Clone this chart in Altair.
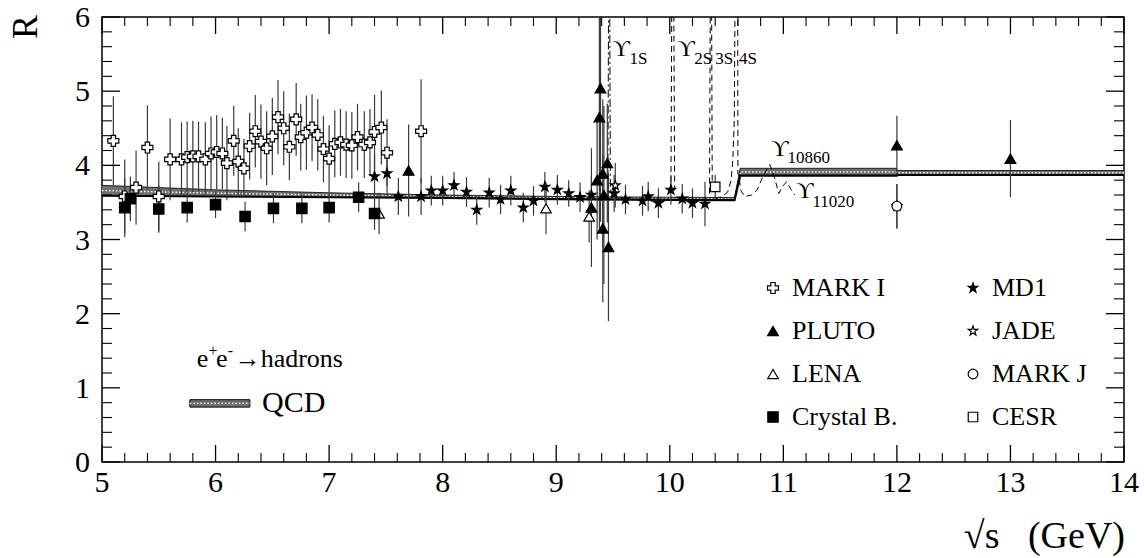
import altair as alt
import pandas as pd

FONT = "Liberation Serif"

# ---------------- data ----------------
# MARK I (open cross)
mk1_x = [5.10, 5.20, 5.30, 5.40, 5.50, 5.60, 5.70, 5.75, 5.80, 5.85, 5.91, 5.96, 6.01, 6.06, 6.10,
         6.16, 6.20, 6.25, 6.30, 6.35, 6.40, 6.45, 6.50, 6.55, 6.60, 6.65, 6.71, 6.75, 6.80, 6.85,
         6.90, 6.95, 7.00, 7.05, 7.10, 7.15, 7.20, 7.25, 7.31, 7.36, 7.40, 7.46, 7.51, 7.81]
mk1_r = [4.33, 3.58, 3.70, 4.24, 3.58, 4.08, 4.08, 4.11, 4.12, 4.12, 4.08, 4.16, 4.18, 4.16, 4.03,
         4.33, 4.05, 3.96, 4.26, 4.46, 4.32, 4.23, 4.39, 4.65, 4.50, 4.25, 4.62, 4.38, 4.44, 4.51,
         4.41, 4.22, 4.09, 4.29, 4.31, 4.28, 4.27, 4.38, 4.28, 4.31, 4.45, 4.51, 4.17, 4.46]
mk1_e = [0.60, 0.50, 0.50, 0.57, 0.47, 0.55, 0.50, 0.48, 0.48, 0.47, 0.50, 0.50, 0.50, 0.48, 0.50,
         0.47, 0.45, 0.40, 0.45, 0.49, 0.50, 0.50, 0.52, 0.50, 0.50, 0.45, 0.49, 0.45, 0.50, 0.45,
         0.48, 0.45, 0.45, 0.45, 0.45, 0.45, 0.45, 0.45, 0.45, 0.45, 0.50, 0.50, 0.45, 0.70]

# MD1 (filled star)
md1_x = [7.40, 7.51, 7.61, 7.81, 7.90, 8.00, 8.10, 8.21, 8.30, 8.41, 8.51, 8.60, 8.71, 8.80,
         8.90, 9.01, 9.11, 9.21, 9.31, 9.51, 9.61, 9.76, 9.81, 9.90, 10.01, 10.11, 10.20, 10.31]
md1_r = [3.85, 3.89, 3.58, 3.58, 3.66, 3.66, 3.73, 3.64, 3.40, 3.63, 3.54, 3.66, 3.43, 3.52,
         3.71, 3.67, 3.62, 3.57, 3.60, 3.62, 3.54, 3.52, 3.58, 3.49, 3.67, 3.55, 3.49, 3.48]
md1_e = [0.30, 0.30, 0.25, 0.25, 0.20, 0.20, 0.18, 0.20, 0.20, 0.20, 0.20, 0.20, 0.20, 0.20,
         0.20, 0.20, 0.18, 0.20, 0.25, 0.25, 0.20, 0.20, 0.20, 0.20, 0.20, 0.20, 0.20, 0.30]

# PLUTO (filled triangle)
plu_x = [7.70, 9.31, 9.36, 9.38, 9.39, 9.41, 9.41, 9.42, 9.45, 9.46, 12.00, 13.00]
plu_r = [3.93, 3.43, 3.80, 4.65, 5.04, 3.89, 3.15, 3.60, 4.03, 2.90, 4.27, 4.09]
plu_e = [0.62, 0.80, 0.80, 1.50, 1.80, 1.00, 1.00, 1.20, 0.80, 1.00, 0.40, 0.52]

# JADE (open star)
jad_x = [9.52, 12.00]
jad_r = [3.73, 3.45]
jad_e = [0.30, 0.30]

# LENA (open triangle)
len_x = [7.44, 8.91, 9.29]
len_r = [3.35, 3.42, 3.31]
len_e = [0.28, 0.35, 0.35]

# MARK J (open circle)
mkj_x = [12.00]
mkj_r = [3.45]
mkj_e = [0.30]

# Crystal Ball (filled square)
cb_x = [5.20, 5.25, 5.50, 5.75, 6.00, 6.26, 6.51, 6.76, 7.00, 7.26, 7.40]
cb_r = [3.43, 3.55, 3.41, 3.43, 3.47, 3.31, 3.42, 3.42, 3.43, 3.57, 3.35]
cb_e = [0.40, 0.30, 0.32, 0.20, 0.18, 0.20, 0.20, 0.20, 0.20, 0.20, 0.22]

# CESR (open square)
ces_x = [10.40]
ces_r = [3.71]
ces_e = [0.16]

# QCD band
qcd_x = [5.00, 6.00, 7.00, 8.00, 9.00, 10.00, 10.57, 10.62, 11.00, 11.999, 12.001, 13.00, 14.00]
qcd_lo = [3.59, 3.58, 3.57, 3.56, 3.545, 3.535, 3.53, 3.86, 3.86, 3.86, 3.87, 3.87, 3.87]
qcd_hi = [3.73, 3.67, 3.63, 3.60, 3.58, 3.57, 3.565, 3.96, 3.96, 3.96, 3.93, 3.93, 3.93]

# Upsilon resonance curves (dashed)
u1_x = [9.455, 9.461, 9.471, 9.477]
u1_r = [3.62, 6.30, 6.30, 3.62]
u2_x = [10.010, 10.018, 10.035, 10.043]
u2_r = [3.64, 6.30, 6.30, 3.66]
u3_x = [10.350, 10.357, 10.368, 10.374]
u3_r = [3.62, 6.30, 6.30, 3.70]
u4_x = [10.40, 10.46, 10.51, 10.54, 10.555, 10.568, 10.575, 10.598, 10.600, 10.61, 10.625, 10.66,
        10.72, 10.77, 10.82, 10.88, 10.92, 10.96, 10.99, 11.03, 11.07, 11.10]
u4_r = [3.55, 3.58, 3.64, 3.80, 4.07, 4.60, 6.30, 6.30, 3.89, 3.85, 3.66, 3.58,
        3.60, 3.67, 3.85, 4.01, 3.85, 3.62, 3.71, 3.78, 3.67, 3.60]

# labels
res_txt = ["\u03d2", "1S", "\u03d2", "2S", "3S", "4S", "\u03d2", "10860", "\u03d2", "11020"]
res_lx = [9.496, 9.645, 10.068, 10.215, 10.40, 10.61, 10.893, 11.036, 11.113, 11.256]
res_ly = [5.48, 5.37, 5.48, 5.37, 5.37, 5.37, 4.13, 4.03, 3.56, 3.44]
res_fs = [24, 17, 24, 17, 17, 17, 24, 17, 24, 17]

ann_txt = ["e", "+", "e", "-", "\u2192hadrons", "QCD"]
ann_x = [5.835, 5.937, 6.005, 6.108, 6.168, 6.41]
ann_y = [1.28, 1.43, 1.28, 1.43, 1.28, 0.68]
ann_fs = [26, 16, 26, 16, 26, 30]

sw_x, sw_x2, sw_y, sw_y2 = [5.774], [6.302], [0.74], [0.84]

exp_order = ["MARK I", "PLUTO", "LENA", "Crystal B.", "MD1", "JADE", "MARK J", "CESR"]
STAR = ("M0,-1L0.2245,-0.309L0.951,-0.309L0.363,0.118L0.588,0.809L0,0.382L-0.588,0.809"
        "L-0.363,0.118L-0.951,-0.309L-0.2245,-0.309Z")
exp_shape = ["cross", "triangle-up", "triangle-up", "square", STAR, STAR, "circle", "square"]
exp_fill = ["white", "black", "white", "black", "black", "white", "white", "white"]
exp_stroke = ["black"] * 8
exp_size = [120, 90, 110, 110, 70, 150, 90, 110]

xmaj = [5, 6, 7, 8, 9, 10, 11, 12, 13, 14]
ymaj = [0, 1, 2, 3, 4, 5, 6]
xlab = ["5", "6", "7", "8", "9", "10", "11", "12", "13", "14"]
ylab = ["0", "1", "2", "3", "4", "5", "6"]
x_title = "\u221as\u00a0\u00a0\u00a0(GeV)"
y_title = "R"

# ---------------- tables ----------------
rows = []
for name, xs_, rs, es in [("MARK I", mk1_x, mk1_r, mk1_e), ("MD1", md1_x, md1_r, md1_e),
                          ("PLUTO", plu_x, plu_r, plu_e), ("JADE", jad_x, jad_r, jad_e),
                          ("LENA", len_x, len_r, len_e), ("MARK J", mkj_x, mkj_r, mkj_e),
                          ("Crystal B.", cb_x, cb_r, cb_e), ("CESR", ces_x, ces_r, ces_e)]:
    for x, r, e in zip(xs_, rs, es):
        rows.append({"exp": name, "x": x, "R": r, "lo": r - e, "hi": r + e})
pts = pd.DataFrame(rows)

band = pd.DataFrame({"x": qcd_x, "lo": qcd_lo, "hi": qcd_hi,
                     "mid": [(a + b) / 2 for a, b in zip(qcd_lo, qcd_hi)],
                     "i": list(range(len(qcd_x)))})

res_rows = []
for name, xs_, rs in [("2S", u2_x, u2_r), ("3S", u3_x, u3_r), ("4S", u4_x, u4_r)]:
    for i, (x, r) in enumerate(zip(xs_, rs)):
        res_rows.append({"res": name, "x": x, "R": r, "i": i})
res = pd.DataFrame(res_rows)
res1 = pd.DataFrame({"x": u1_x, "R": u1_r, "i": list(range(len(u1_x)))})

xminor = [round(5 + 0.2 * k, 1) for k in range(46) if (k % 5) != 0]
yminor = [round(0.2 * k, 1) for k in range(31) if (k % 5) != 0]

W, H = 1022, 445
xs = alt.Scale(domain=[5, 14], nice=False, zero=False)
ys = alt.Scale(domain=[0, 6], nice=False, zero=False)

NOX = dict(scale=xs, axis=None)
NOY = dict(scale=ys, axis=None)

band_area = alt.Chart(band).mark_area(fill="#6f6f6f", opacity=1, clip=True).encode(
    x=alt.X("x:Q", **NOX), y=alt.Y("lo:Q", **NOY), y2="hi:Q")
band_top = alt.Chart(band).mark_line(color="black", strokeWidth=0.8, clip=True).encode(
    x=alt.X("x:Q", **NOX), y=alt.Y("hi:Q", **NOY), order="i:Q")
band_mid = alt.Chart(band).mark_line(color="white", strokeWidth=1.4, strokeDash=[1.5, 2], clip=True).encode(
    x=alt.X("x:Q", **NOX), y=alt.Y("mid:Q", **NOY), order="i:Q")
band_lo = alt.Chart(band).mark_line(color="black", strokeWidth=2.2, clip=True).encode(
    x=alt.X("x:Q", **NOX), y=alt.Y("lo:Q", **NOY), order="i:Q")

res_lines = alt.Chart(res).mark_line(color="black", strokeWidth=1, strokeDash=[6, 4], clip=True).encode(
    x=alt.X("x:Q", **NOX), y=alt.Y("R:Q", **NOY), detail="res:N", order="i:Q")
res1_line = alt.Chart(res1).mark_line(color="black", strokeWidth=1, strokeDash=[8, 3, 2, 3], clip=True).encode(
    x=alt.X("x:Q", **NOX), y=alt.Y("R:Q", **NOY), order="i:Q")

base = alt.Chart(pts)
errs = base.mark_rule(color="#3a3a3a", strokeWidth=1.2, clip=True).encode(
    x=alt.X("x:Q", **NOX), y=alt.Y("lo:Q", **NOY), y2="hi:Q")

leg = alt.Legend(orient="none", legendX=658, legendY=258, columns=2, title=None,
                 labelFont=FONT, labelFontSize=26, labelColor="black", labelOffset=6,
                 rowPadding=17, columnPadding=62, padding=0, labelLimit=300,
                 symbolStrokeWidth=1.2)
points = base.mark_point(filled=True, strokeWidth=1.2, opacity=1, clip=True).encode(
    x=alt.X("x:Q", **NOX), y=alt.Y("R:Q", **NOY),
    shape=alt.Shape("exp:N", scale=alt.Scale(domain=exp_order, range=exp_shape), legend=leg),
    fill=alt.Fill("exp:N", scale=alt.Scale(domain=exp_order, range=exp_fill), legend=leg),
    stroke=alt.Stroke("exp:N", scale=alt.Scale(domain=exp_order, range=exp_stroke), legend=leg),
    size=alt.Size("exp:N", scale=alt.Scale(domain=exp_order, range=exp_size), legend=leg),
)

lab = pd.DataFrame({"t": res_txt, "x": res_lx, "y": res_ly, "fs": res_fs})
labels = alt.Chart(lab).mark_text(font=f"{FONT}, DejaVu Serif", align="left", baseline="alphabetic",
                                  color="black").encode(
    x=alt.X("x:Q", **NOX), y=alt.Y("y:Q", **NOY), text="t:N", size=alt.Size("fs:Q", scale=None))

ann = pd.DataFrame({"t": ann_txt, "x": ann_x, "y": ann_y, "fs": ann_fs})
annot = alt.Chart(ann).mark_text(font=f"{FONT}, DejaVu Serif", align="left", baseline="alphabetic",
                                 color="black").encode(
    x=alt.X("x:Q", **NOX), y=alt.Y("y:Q", **NOY), text="t:N", size=alt.Size("fs:Q", scale=None))

sw = pd.DataFrame({"x": sw_x, "x2": sw_x2, "y": sw_y, "y2": sw_y2,
                   "ym": [(a + b) / 2 for a, b in zip(sw_y, sw_y2)]})
swatch = alt.Chart(sw).mark_rect(fill="#6f6f6f", stroke="black", strokeWidth=1).encode(
    x=alt.X("x:Q", **NOX), x2="x2:Q", y=alt.Y("y:Q", **NOY), y2="y2:Q")
sw_mid = alt.Chart(sw).mark_rule(color="white", strokeWidth=1.4, strokeDash=[1.5, 2]).encode(
    x=alt.X("x:Q", **NOX), x2="x2:Q", y=alt.Y("ym:Q", **NOY))

# ----- axis ticks (inward, on all four sides) -----
def xticks(vals, y0, y1, w):
    return alt.Chart(pd.DataFrame({"t": vals})).mark_rule(color="black", strokeWidth=w).encode(
        x=alt.X("t:Q", **NOX), y=alt.value(y0), y2=alt.value(y1))

def yticks(vals, x0, x1, w):
    return alt.Chart(pd.DataFrame({"t": vals})).mark_rule(color="black", strokeWidth=w).encode(
        y=alt.Y("t:Q", **NOY), x=alt.value(x0), x2=alt.value(x1))

ticks = [
    xticks(xmaj, H, H - 17, 1.3), xticks(xminor, H, H - 9, 1.1),
    xticks(xmaj, 0, 17, 1.3), xticks(xminor, 0, 9, 1.1),
    yticks(ymaj, 0, 18, 1.3), yticks(yminor, 0, 10, 1.1),
    yticks(ymaj, W, W - 18, 1.3), yticks(yminor, W, W - 10, 1.1),
]

# ----- axis labels and titles -----
xl = alt.Chart(pd.DataFrame({"v": xmaj, "t": xlab})).mark_text(
    font=FONT, fontSize=30, color="black", align="center", baseline="alphabetic").encode(
    x=alt.X("v:Q", **NOX), y=alt.value(H + 30), text="t:N")
yl = alt.Chart(pd.DataFrame({"v": ymaj, "t": ylab})).mark_text(
    font=FONT, fontSize=30, color="black", align="right", baseline="alphabetic", dy=10).encode(
    y=alt.Y("v:Q", **NOY), x=alt.value(-12), text="t:N")
xt = alt.Chart(pd.DataFrame({"t": [x_title]})).mark_text(
    font=FONT, fontSize=38, color="black", align="right", baseline="alphabetic").encode(
    x=alt.value(1023), y=alt.value(531), text="t:N")
yt = alt.Chart(pd.DataFrame({"t": [y_title]})).mark_text(
    font=FONT, fontSize=36, color="black", align="center", baseline="alphabetic", angle=270).encode(
    x=alt.value(-65), y=alt.value(10), text="t:N")

chart = alt.layer(
    band_area, band_mid, band_top, band_lo, res_lines, res1_line, errs, points,
    labels, annot, swatch, sw_mid, *ticks, xl, yl, xt, yt
).properties(
    width=W, height=H,
    padding={"left": 102, "top": 17, "right": 20, "bottom": 96},
    autosize=alt.AutoSizeParams(type="none"),
    background="white",
).configure_view(stroke="black", strokeWidth=1.5)

chart.save("out.html", embed_options={"renderer": "svg", "actions": False})
